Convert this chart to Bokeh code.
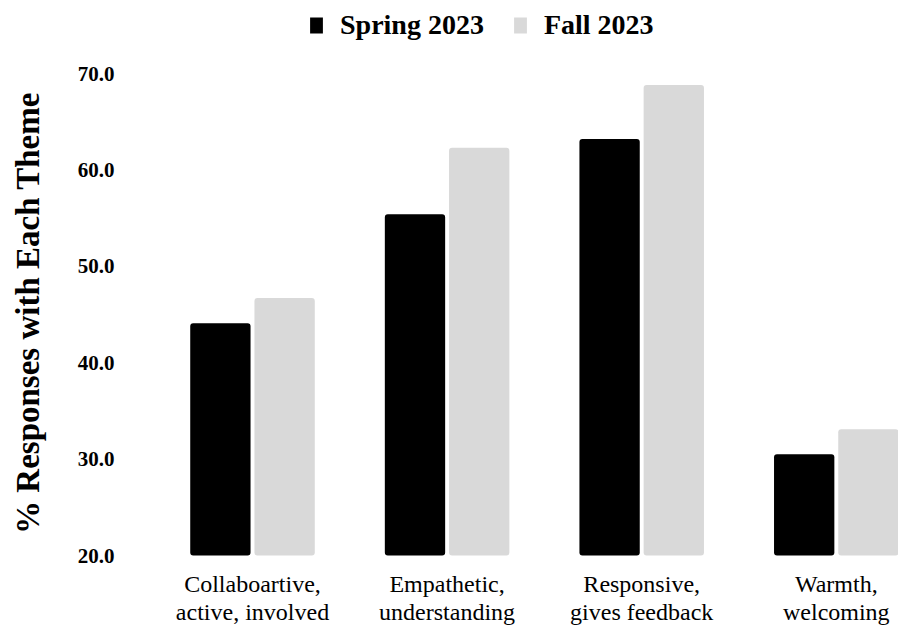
import numpy as np
from bokeh.plotting import figure
from bokeh.models import (ColumnDataSource, Range1d, FixedTicker, PrintfTickFormatter,
                          Legend, LegendItem)
from bokeh.core.properties import value
from bokeh.embed import file_html
from bokeh.resources import INLINE

categories = ["Collaboartive,\nactive, involved", "Empathetic,\nunderstanding",
              "Responsive,\ngives feedback", "Warmth,\nwelcoming"]
series_names = ["Spring 2023", "Fall 2023"]
spring = [44.1, 55.4, 63.2, 30.5]
fall = [46.7, 62.3, 68.8, 33.1]
y_ticks = [20, 30, 40, 50, 60, 70]

FONT = "Liberation Serif"
W, H = 898, 625
L = 125
Y70_PX = 73      # screen y of the 70.0 tick
Y20_PX = 555     # screen y of the 20.0 tick (bar base)
px_per_cat = 194.6
c0 = 252

ppu = (Y20_PX - Y70_PX) / (70 - 20)
x_start = (L - c0) / px_per_cat
x_end = (W - c0) / px_per_cat
y_start = 20 - (H - Y20_PX) / ppu
y_end = 70 + Y70_PX / ppu

p = figure(width=W, height=H, output_backend="svg", toolbar_location=None,
           x_range=Range1d(x_start, x_end), y_range=Range1d(y_start, y_end),
           min_border_left=L, min_border_right=0, min_border_top=0, min_border_bottom=0)
p.outline_line_color = None
p.xgrid.visible = False
p.ygrid.visible = False
p.xaxis.visible = False

idx = np.arange(len(categories))
src = ColumnDataSource(dict(xs=idx - 0.165, xf=idx + 0.165, spring=spring, fall=fall))
r1 = p.vbar(x="xs", top="spring", bottom=20, width=0.31, source=src,
            fill_color="#000000", line_color=None, border_radius=3)
r2 = p.vbar(x="xf", top="fall", bottom=20, width=0.31, source=src,
            fill_color="#d9d9d9", line_color=None, border_radius=3)

# y axis
p.yaxis.ticker = FixedTicker(ticks=y_ticks)
p.yaxis.formatter = PrintfTickFormatter(format="%.1f")
p.yaxis.axis_line_color = None
p.yaxis.major_tick_line_color = None
p.yaxis.minor_tick_line_color = None
p.yaxis.major_tick_out = 0
p.yaxis.major_tick_in = 0
p.yaxis.major_label_standoff = 11
p.yaxis.major_label_text_font = FONT
p.yaxis.major_label_text_font_style = "bold"
p.yaxis.major_label_text_font_size = "21px"
p.yaxis.major_label_text_color = "#000000"
p.yaxis.axis_label = "% Responses with Each Theme"
p.yaxis.axis_label_text_font = FONT
p.yaxis.axis_label_text_font_style = "bold"
p.yaxis.axis_label_text_font_size = "33px"
p.yaxis.axis_label_text_color = "#000000"
p.yaxis.axis_label_standoff = 29

# category labels (two lines) below the bar base
line1 = [c.split("\n")[0] for c in categories]
line2 = [c.split("\n")[1] for c in categories]
lab = ColumnDataSource(dict(x=idx, base=[20] * len(idx), l1=line1, l2=line2))
for col, off in (("l1", 28), ("l2", 56)):
    p.text(x="x", y="base", text=col, source=lab, y_offset=off,
           text_font=value(FONT), text_font_size="24px", text_color="#000000",
           text_align="center", text_baseline="middle")

legend = Legend(items=[LegendItem(label=series_names[0], renderers=[r1]),
                       LegendItem(label=series_names[1], renderers=[r2])],
                orientation="horizontal", location=(308 - L, H - 41),
                label_text_font=FONT, label_text_font_size="28px", label_text_font_style="bold",
                label_text_color="#000000",
                glyph_width=16, glyph_height=20, label_standoff=16, spacing=28,
                padding=0, margin=0, border_line_color=None, background_fill_alpha=0)
p.add_layout(legend)

open("out.html", "w").write(file_html(p, INLINE))
